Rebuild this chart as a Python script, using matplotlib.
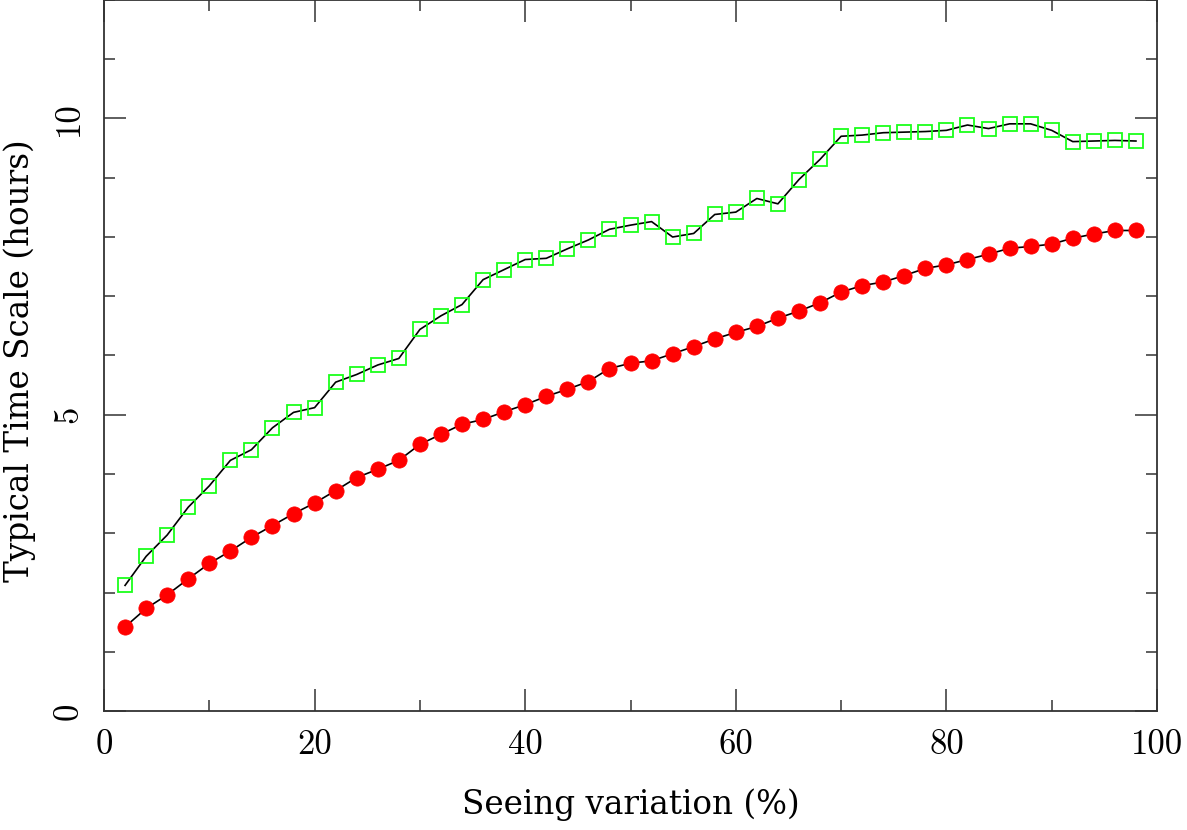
import matplotlib
matplotlib.use("Agg")
import matplotlib.pyplot as plt
from matplotlib.ticker import MultipleLocator, FixedLocator, FixedFormatter

plt.rcParams['font.family'] = ['cmr10', 'DejaVu Serif']
plt.rcParams['axes.formatter.use_mathtext'] = True
plt.rcParams['mathtext.fontset'] = 'cm'

seeing = [2, 4, 6, 8, 10, 12, 14, 16, 18, 20, 22, 24, 26, 28, 30, 32, 34, 36, 38, 40,
          42, 44, 46, 48, 50, 52, 54, 56, 58, 60, 62, 64, 66, 68, 70, 72, 74, 76, 78, 80,
          82, 84, 86, 88, 90, 92, 94, 96, 98]

green_vals = [2.12, 2.61, 2.97, 3.44, 3.80, 4.23, 4.41, 4.78, 5.04, 5.12,
              5.55, 5.68, 5.84, 5.95, 6.44, 6.67, 6.86, 7.28, 7.45, 7.62,
              7.64, 7.80, 7.95, 8.13, 8.20, 8.26, 8.00, 8.06, 8.38, 8.42,
              8.65, 8.56, 8.97, 9.31, 9.70, 9.72, 9.76, 9.77, 9.78, 9.80,
              9.89, 9.83, 9.91, 9.91, 9.80, 9.61, 9.62, 9.63, 9.62]

red_vals = [1.42, 1.73, 1.96, 2.23, 2.49, 2.70, 2.93, 3.13, 3.33, 3.51,
            3.72, 3.94, 4.08, 4.23, 4.50, 4.67, 4.84, 4.92, 5.05, 5.17,
            5.31, 5.43, 5.56, 5.78, 5.87, 5.91, 6.03, 6.15, 6.28, 6.39,
            6.49, 6.63, 6.75, 6.89, 7.07, 7.18, 7.24, 7.35, 7.47, 7.53,
            7.62, 7.71, 7.81, 7.84, 7.88, 7.98, 8.05, 8.11, 8.11]

x_ticks = [0, 20, 40, 60, 80, 100]
x_tick_labels = ['0', '20', '40', '60', '80', '100']
y_ticks = [0, 5, 10]
y_tick_labels = ['0', '5', '10']

W, H = 1187, 830
fig = plt.figure(figsize=(W / 100, H / 100), dpi=100)
ax = fig.add_axes([104 / W, (H - 711) / H, (1157 - 104) / W, 711 / H])

ax.plot(seeing, green_vals, color='black', lw=1.2, zorder=2)
ax.plot(seeing, green_vals, linestyle='none', marker='s', markersize=10.5,
        markerfacecolor='none', markeredgecolor='#1aff1a', markeredgewidth=1.3, zorder=3)

ax.plot(seeing, red_vals, color='black', lw=1.2, zorder=2)
ax.plot(seeing, red_vals, linestyle='none', marker='o', markersize=11,
        markerfacecolor='#ff0000', markeredgecolor='#ff0000', markeredgewidth=0.5, zorder=3)

ax.set_xlim(0, 100)
ax.set_ylim(0, 12)

ax.xaxis.set_major_locator(FixedLocator(x_ticks))
ax.xaxis.set_major_formatter(FixedFormatter(x_tick_labels))
ax.xaxis.set_minor_locator(MultipleLocator(10))
ax.yaxis.set_major_locator(FixedLocator(y_ticks))
ax.yaxis.set_major_formatter(FixedFormatter(y_tick_labels))
ax.yaxis.set_minor_locator(MultipleLocator(1))

ax.tick_params(which='both', direction='in', top=True, right=True, color='#333333')
ax.tick_params(which='major', length=16, width=1.1)
ax.tick_params(which='minor', length=8, width=1.1)
ax.tick_params(axis='x', which='major', labelsize=25, pad=13)
ax.tick_params(axis='y', which='major', labelsize=25, pad=14)
for lab in ax.get_yticklabels():
    lab.set_rotation(90)
    lab.set_va('center')

for sp in ax.spines.values():
    sp.set_linewidth(1.3)
    sp.set_color('#333333')

label_font = ['DejaVu Serif']
ax.set_xlabel('Seeing variation (%)', fontsize=23.5, family=label_font)
ax.xaxis.set_label_coords(0.5, -(805 - 711) / 711)
ax.xaxis.label.set_va('center')
ax.set_ylabel('Typical Time Scale (hours)', fontsize=23.5, family=label_font)
ax.yaxis.set_label_coords(-(104 - 20) / (1157 - 104), 0.493)
ax.yaxis.label.set_va('center')

fig.savefig('out.png', dpi=100)
